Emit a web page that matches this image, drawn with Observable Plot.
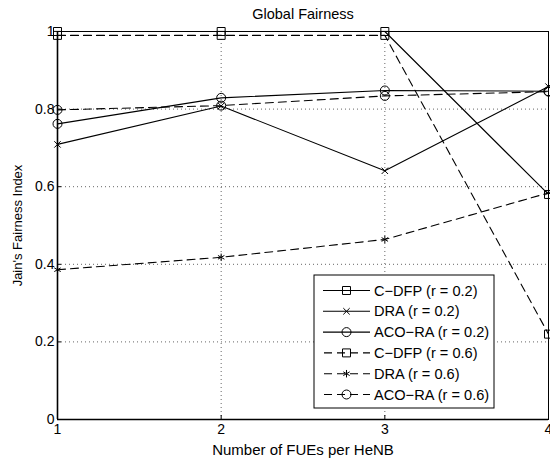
<!DOCTYPE html>
<html><head><meta charset="utf-8">
<script src="https://cdn.jsdelivr.net/npm/d3@7"></script>
<script src="https://cdn.jsdelivr.net/npm/@observablehq/plot@0.6"></script>
<style>body{margin:0;background:#fff}svg{display:block}</style>
</head><body><div id="chart"></div>
<script>
const xs = [1, 2, 3, 4];
const xTicks = [1, 2, 3, 4];
const yTicks = [0, 0.2, 0.4, 0.6, 0.8, 1];
const seriesNames = ["C\u2212DFP (r = 0.2)", "DRA (r = 0.2)", "ACO\u2212RA (r = 0.2)", "C\u2212DFP (r = 0.6)", "DRA (r = 0.6)", "ACO\u2212RA (r = 0.6)"];
const cdfp02 = [1.0, 1.0, 1.0, 0.58];
const dra02 = [0.709, 0.808, 0.641, 0.858];
const aco02 = [0.762, 0.829, 0.848, 0.846];
const cdfp06 = [0.99, 0.99, 0.99, 0.22];
const dra06 = [0.386, 0.418, 0.464, 0.584];
const aco06 = [0.798, 0.809, 0.834, 0.845];
const titleText = "Global Fairness";
const xLabel = "Number of FUEs per HeNB";
const yLabel = "Jain's Fairness Index";

const FONT = "Liberation Sans, Arial, Helvetica, sans-serif";
const styles = [
  {symbol: "square", r: 4.5, dash: null},
  {symbol: "times", r: 3, dash: null},
  {symbol: "circle", r: 4.5, dash: null},
  {symbol: "square", r: 4.5, dash: "8,5"},
  {symbol: "asterisk", r: 3.5, dash: "8,5"},
  {symbol: "circle", r: 4.5, dash: "8,5"}
];
const allValues = [cdfp02, dra02, aco02, cdfp06, dra06, aco06];
const series = seriesNames.map((name, i) => ({
  name, ...styles[i],
  rows: xs.map((x, j) => ({x, y: allValues[i][j], s: name}))
}));

const W = 550, H = 461, mL = 57, mR = 2, mT = 31, mB = 42;
const marks = [
  Plot.gridY(yTicks.slice(1, -1), {stroke: "#666", strokeOpacity: 1, strokeDasharray: "1,3"}),
  Plot.gridX(xTicks.slice(1, -1), {stroke: "#666", strokeOpacity: 1, strokeDasharray: "1,3"}),
];
for (const s of series) {
  marks.push(Plot.line(s.rows, {x: "x", y: "y", stroke: "black", strokeWidth: 1.1, strokeDasharray: s.dash}));
}
for (const s of series) {
  marks.push(Plot.dot(s.rows, {x: "x", y: "y", symbol: () => s.symbol, r: s.r, stroke: "black", fill: "none", strokeWidth: 1}));
}
marks.push(
  Plot.frame({stroke: "black", strokeWidth: 1}),
  Plot.ruleY([0], {stroke: "black", strokeWidth: 1.6}),
  Plot.ruleX([1], {stroke: "black", strokeWidth: 1.6}),
  Plot.axisX(xTicks, {tickSize: -4, tickPadding: 9, fontSize: 14, tickFormat: d => String(d), label: null}),
  Plot.axisY(yTicks, {tickSize: -4, tickPadding: 7, fontSize: 14, tickFormat: d => String(d), label: null}),
  Plot.text([xLabel], {text: d => d, frameAnchor: "bottom", lineAnchor: "middle", textAnchor: "middle", dy: 31, fontSize: 15, fill: "black"}),
  Plot.text([yLabel], {text: d => d, frameAnchor: "left", lineAnchor: "middle", textAnchor: "middle", dx: -40, rotate: -90, fontSize: 13, fill: "black"}),
  Plot.text([titleText], {text: d => d, frameAnchor: "top", lineAnchor: "middle", textAnchor: "middle", dy: -17, fontSize: 14.5, fill: "black"})
);

const chart = Plot.plot({
  width: W, height: H,
  marginLeft: mL, marginRight: mR, marginTop: mT, marginBottom: mB,
  style: {fontFamily: FONT, fontSize: "14px", color: "black", background: "white", overflow: "visible"},
  x: {domain: [1, 4]},
  y: {domain: [0, 1]},
  marks
});
document.getElementById("chart").appendChild(chart);

// Legend (built from series data)
const svg = d3.select(chart);
const lgW = 180, lgH = 133;
const lgX = W - mR - 54 - lgW, lgY = H - mB - 11 - lgH;
const lg = svg.append("g").attr("transform", `translate(${lgX},${lgY})`);
lg.append("rect").attr("width", lgW).attr("height", lgH).attr("fill", "white").attr("stroke", "black").attr("stroke-width", 1);
const symMap = {square: d3.symbolSquare, times: d3.symbolTimes, circle: d3.symbolCircle, asterisk: d3.symbolAsterisk};
series.forEach((s, i) => {
  const yy = 15.5 + i * 20.8;
  lg.append("line").attr("x1", 9).attr("x2", 56).attr("y1", yy).attr("y2", yy)
    .attr("stroke", "black").attr("stroke-width", 1.1).attr("stroke-dasharray", s.dash ? "8,5" : null)
    .attr("stroke-dashoffset", s.dash ? -1 : null);
  lg.append("path").attr("transform", `translate(32.5,${yy})`)
    .attr("d", d3.symbol(symMap[s.symbol], Math.PI * s.r * s.r)())
    .attr("fill", "none").attr("stroke", "black").attr("stroke-width", 1);
  lg.append("text").attr("x", 60).attr("y", yy).attr("dy", "0.35em")
    .attr("text-anchor", "start")
    .attr("font-size", 14.6).attr("font-family", FONT).attr("fill", "black").text(s.name);
});
</script>
</body></html>
